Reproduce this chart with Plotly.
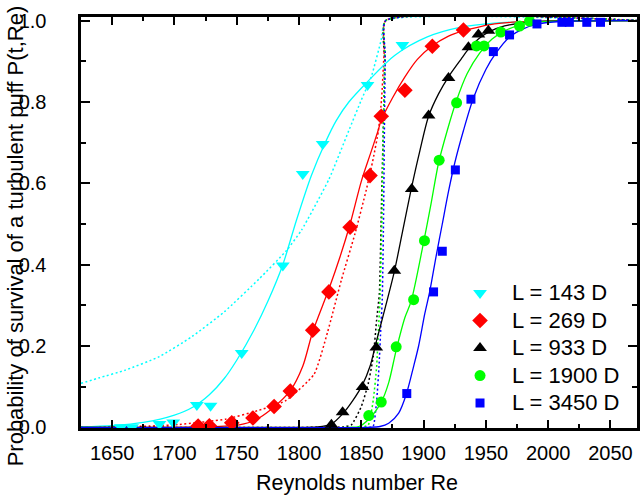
import plotly.graph_objects as go

# ---------------- data ----------------
labels = ["L = 143 D", "L = 269 D", "L = 933 D", "L = 1900 D", "L = 3450 D"]
colors = ["#00FFFF", "#FF0000", "#000000", "#00FF00", "#0000FF"]
symbols = ["triangle-down", "diamond", "triangle-up", "circle", "square"]
msizes = [12, 12, 12, 11, 9]

# measured survival probabilities (markers)
x143 = [1657, 1666, 1688, 1699, 1718, 1729, 1754, 1787, 1803, 1819, 1855, 1883]
y143 = [0.0, 0.0, 0.008, 0.012, 0.055, 0.053, 0.183, 0.398, 0.623, 0.697, 0.842, 0.94]

x269 = [1719, 1728, 1746, 1763, 1780, 1793, 1811, 1824, 1841, 1857, 1866, 1885, 1907, 1932]
y269 = [0.003, 0.004, 0.011, 0.023, 0.051, 0.089, 0.239, 0.333, 0.492, 0.619, 0.765, 0.829, 0.937, 0.977]

x933 = [1826, 1835, 1851, 1862, 1876.5, 1890.5, 1904, 1920, 1936, 1944, 1952]
y933 = [0.006, 0.037, 0.099, 0.196, 0.385, 0.586, 0.767, 0.859, 0.935, 0.966, 0.975]

x1900 = [1856, 1866, 1878, 1892, 1900.7, 1912.5, 1926.5, 1942.5, 1948.5, 1962, 1977, 1985]
y1900 = [0.029, 0.062, 0.198, 0.314, 0.459, 0.657, 0.798, 0.938, 0.938, 0.972, 0.987, 0.999]

x3450 = [1886.5, 1908, 1915, 1925.5, 1938, 1956, 1969, 1991, 2011, 2017, 2031, 2042]
y3450 = [0.083, 0.333, 0.433, 0.633, 0.807, 0.924, 0.965, 0.992, 0.996, 0.996, 0.996, 0.996]

# solid fitted curves
fx143 = [1625, 1650, 1675, 1700, 1715, 1728, 1740, 1750, 1764, 1775, 1787, 1798, 1810, 1821,
         1830, 1840, 1855, 1877, 1903, 1930, 1957, 2000, 2075]
fy143 = [0.001, 0.004, 0.012, 0.03, 0.05, 0.08, 0.12, 0.165, 0.24, 0.31, 0.40, 0.51, 0.62, 0.70,
         0.755, 0.80, 0.85, 0.915, 0.96, 0.984, 0.994, 0.999, 1.0]

fx269 = [1625, 1700, 1725, 1740, 1752, 1765, 1778, 1793, 1803, 1811, 1824, 1833, 1841, 1850,
         1857, 1863, 1866, 1875, 1885, 1895, 1906, 1920, 1931.5, 1945, 1957, 1975, 2000, 2075]
fy269 = [0.0, 0.0, 0.001, 0.003, 0.006, 0.018, 0.045, 0.09, 0.15, 0.235, 0.34, 0.42, 0.50, 0.605,
         0.67, 0.725, 0.755, 0.81, 0.862, 0.905, 0.936, 0.962, 0.975, 0.985, 0.992, 0.997, 0.999, 1.0]

fx933 = [1625, 1800, 1815, 1826, 1835, 1843, 1851, 1857, 1862, 1868, 1876.5, 1883, 1890, 1897,
         1904, 1912, 1920, 1930, 1936, 1944, 1952, 1965, 1980, 2000, 2075]
fy933 = [0.0, 0.0, 0.001, 0.008, 0.033, 0.065, 0.105, 0.15, 0.21, 0.28, 0.383, 0.48, 0.585, 0.68,
         0.765, 0.82, 0.862, 0.905, 0.93, 0.955, 0.972, 0.987, 0.995, 0.999, 1.0]

fx1900 = [1625, 1840, 1848, 1856, 1866, 1872, 1878, 1885, 1890, 1900, 1906, 1912, 1919, 1926,
          1935, 1945, 1955, 1965, 1978, 1990, 2010, 2075]
fy1900 = [0.0, 0.0, 0.002, 0.02, 0.062, 0.11, 0.19, 0.27, 0.31, 0.455, 0.55, 0.65, 0.73, 0.80,
          0.87, 0.92, 0.955, 0.975, 0.99, 0.996, 0.999, 1.0]

fx3450 = [1625, 1855, 1865, 1872, 1880, 1886, 1892, 1896, 1901, 1905, 1910, 1915, 1920, 1925,
          1932, 1940, 1950, 1958, 1969, 1980, 1992, 2010, 2075]
fy3450 = [0.0, 0.0, 0.002, 0.01, 0.035, 0.08, 0.15, 0.2, 0.28, 0.335, 0.42, 0.5, 0.58, 0.65,
          0.73, 0.81, 0.88, 0.92, 0.96, 0.98, 0.992, 0.998, 1.0]

# dotted model curves
dx143 = [1625, 1640, 1660, 1688, 1714, 1740, 1768, 1790, 1802, 1824, 1840, 1850, 1858, 1866, 1869.5, 2075]
dy143 = [0.108, 0.122, 0.14, 0.174, 0.223, 0.284, 0.365, 0.435, 0.485, 0.61, 0.73, 0.805, 0.862, 0.953, 1.0, 1.0]

dx269 = [1625, 1650, 1680, 1704, 1741, 1768, 1789, 1812, 1823, 1834, 1845, 1854, 1859.5, 1863.6,
         1866.2, 1868.4, 1869.5, 2075]
dy269 = [0.0, 0.001, 0.003, 0.007, 0.02, 0.042, 0.065, 0.13, 0.235, 0.362, 0.477, 0.584, 0.66, 0.727,
         0.805, 0.928, 1.0, 1.0]

dx933 = [1625, 1820, 1835, 1842, 1850, 1855.6, 1859.6, 1862.3, 1864.5, 1866.2, 1867.6, 1868.8, 1869.5, 2075]
dy933 = [0.0, 0.0, 0.001, 0.006, 0.051, 0.108, 0.174, 0.264, 0.33, 0.55, 0.73, 0.9, 1.0, 1.0]

dx1900 = [1625, 1850, 1855.6, 1859.6, 1862.3, 1863.6, 1865, 1866.5, 1867.8, 1869, 1869.5, 2075]
dy1900 = [0.0, 0.0, 0.006, 0.067, 0.149, 0.231, 0.313, 0.5, 0.75, 0.92, 1.0, 1.0]

dx3450 = [1625, 1857, 1859.6, 1862.3, 1864.2, 1865.7, 1866.8, 1867.8, 1868.6, 1869.2, 1869.5, 2075]
dy3450 = [0.0, 0.0, 0.003, 0.065, 0.149, 0.247, 0.313, 0.5, 0.75, 0.92, 1.0, 1.0]

x_ticks = [1650, 1700, 1750, 1800, 1850, 1900, 1950, 2000, 2050]
y_ticks = [0.0, 0.2, 0.4, 0.6, 0.8, 1.0]
y_ticklabels = ["0.0", "0.2", "0.4", "0.6", "0.8", "1.0"]

x_title = "Reynolds number Re"
y_title = "Probability of survival of a turbulent puff P(t,Re)"

# ---------------- figure ----------------
marks = [(x143, y143), (x269, y269), (x933, y933), (x1900, y1900), (x3450, y3450)]
fits = [(fx143, fy143), (fx269, fy269), (fx933, fy933), (fx1900, fy1900), (fx3450, fy3450)]
dots = [(dx143, dy143), (dx269, dy269), (dx933, dy933), (dx1900, dy1900), (dx3450, dy3450)]

fig = go.Figure()
for (dx, dy), c in zip(dots, colors):
    fig.add_trace(go.Scatter(x=dx, y=dy, mode="lines", showlegend=False, hoverinfo="skip",
                             line=dict(color=c, width=1.5, dash="2px,2.5px", shape="spline", smoothing=0.5)))
for (fx, fy), c in zip(fits, colors):
    fig.add_trace(go.Scatter(x=fx, y=fy, mode="lines", showlegend=False, hoverinfo="skip",
                             line=dict(color=c, width=1.3, shape="spline", smoothing=0.8)))
for (mx, my), c, s, ms, lab in zip(marks, colors, symbols, msizes, labels):
    fig.add_trace(go.Scatter(x=mx, y=my, mode="markers",
                             name='<span style="font-size:22px">%s</span>' % lab,
                             marker=dict(symbol=s, size=ms, color=c, line=dict(width=0))))

FONT = "Arial, 'Liberation Sans', sans-serif"
W, H = 640, 499
L, R, T, B = 81, 0, 17, 71
NB = "\u00a0" * 5  # keeps the y tick labels clear of the inward ticks, as in the reference

fig.update_layout(
    width=W, height=H,
    margin=dict(l=L, r=R, t=T, b=B),
    paper_bgcolor="white", plot_bgcolor="white",
    font=dict(family=FONT, size=20, color="black"),
    showlegend=True,
    legend=dict(x=(450 - L) / (W - L - R), y=((H - B) - 274.25) / (H - T - B), xanchor="left", yanchor="top",
                bgcolor="rgba(0,0,0,0)", borderwidth=0,
                font=dict(family=FONT, size=18.85, color="black"),
                itemwidth=54, tracegroupgap=0),
    xaxis=dict(range=[1625, 2071.3], showgrid=False, zeroline=False,
               showline=True, linecolor="black", linewidth=2.5, mirror="allticks",
               ticks="inside", ticklen=8, tickwidth=2, tickcolor="black",
               tickmode="array", tickvals=x_ticks, ticktext=[str(v) for v in x_ticks],
               tickfont=dict(family=FONT, size=20), ticklabelstandoff=5,
               minor=dict(dtick=25, tick0=1625, ticks="inside", ticklen=4, tickwidth=2, tickcolor="black")),
    yaxis=dict(range=[-0.0017, 1.0091], showgrid=False, zeroline=False,
               showline=True, linecolor="black", linewidth=2.5, mirror="allticks",
               ticks="inside", ticklen=9, tickwidth=2, tickcolor="black",
               tickmode="array", tickvals=y_ticks, ticktext=[t + NB for t in y_ticklabels],
               tickfont=dict(family=FONT, size=20),
               minor=dict(dtick=0.1, tick0=0, ticks="inside", ticklen=5, tickwidth=2, tickcolor="black")),
    annotations=[
        dict(text=x_title, xref="paper", yref="paper", x=(358 - L) / (W - L - R), y=-(483 - (H - B)) / (H - T - B),
             xanchor="center", yanchor="middle", showarrow=False, font=dict(family=FONT, size=21.5)),
        dict(text=y_title, xref="paper", yref="paper", x=-(L - 15) / (W - L - R), y=((H - B) - 236) / (H - T - B),
             xanchor="center", yanchor="middle", textangle=-90, showarrow=False, font=dict(family=FONT, size=22)),
    ],
)

fig.write_html("out.html")
